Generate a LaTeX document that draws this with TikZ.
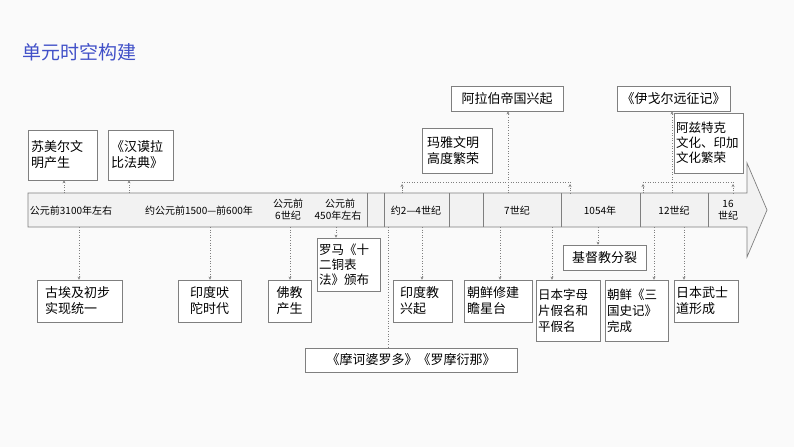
\documentclass[tikz,border=0pt]{standalone}
\usepackage{fontspec}
\setmainfont{Noto Sans CJK SC}
\usetikzlibrary{arrows.meta}
\definecolor{edge}{HTML}{7F7F7F}
\definecolor{title}{HTML}{4150C8}
\tikzset{x=1pt,y=-1pt,
 bx/.style={draw=edge,fill=white,line width=0.6pt,font=\fontsize{13}{16}\selectfont,align=left,inner sep=2pt},
 con/.style={draw=edge,dotted,line width=0.6pt,-{Stealth[length=3pt,width=3pt]}},
 brk/.style={draw=edge,dotted,line width=0.6pt},
 lab/.style={font=\fontsize{10}{12}\selectfont,align=center,inner sep=0pt}}
\begin{document}
\begin{tikzpicture}
\fill[white!98!black] (0,0) rectangle (794,447);
\useasboundingbox (0,0) rectangle (794,447);
\node[anchor=west,text=title,font=\fontsize{19}{22}\selectfont,inner sep=0pt] (t) at (22,52) {单元时空构建};
% bar
\draw[edge,fill=white!95!black,line width=0.7pt] (28,193) -- (747,193) -- (747,163) -- (767,210) -- (747,257) -- (747,227) -- (28,227) -- cycle;
\foreach \x in {367,384,449,483,561,640,708} \draw[edge,line width=0.7pt] (\x,193) -- (\x,227);
\node[lab] (l1) at (71,211) {公元前3100年左右};
\node[lab] (l2) at (199,211) {约公元前1500—前600年};
\node[lab] (l3) at (288,210) {公元前\\6世纪};
\node[lab] (l4) at (338,210) {\ \ 公元前\\450年左右};
\node[lab] (l5) at (416,211) {约2—4世纪};
\node[lab] (l6) at (517,211) {7世纪};
\node[lab] (l7) at (600,211) {1054年};
\node[lab] (l8) at (674,211) {12世纪};
\node[lab] (l9) at (728,210) {16\\世纪};
% top boxes
\node[bx,minimum width=69pt,minimum height=50pt,text width=63pt] (s1) at (62.5,155) {苏美尔文\\明产生};
\node[bx,minimum width=65pt,minimum height=50pt,text width=59pt] (s2) at (140.5,155) {《汉谟拉\\比法典》};
\node[bx,minimum width=70pt,minimum height=45pt,text width=60pt] (s3) at (457,150.5) {玛雅文明\\高度繁荣};
\node[bx,minimum width=112pt,minimum height=25pt] (s4) at (507,98.5) {阿拉伯帝国兴起};
\node[bx,minimum width=113pt,minimum height=25pt] (s5) at (673.5,98.5) {《伊戈尔远征记》};
\node[bx,minimum width=69pt,minimum height=60pt,text width=65pt,font=\fontsize{12.5}{15}\selectfont] (s6) at (708.5,143) {阿兹特克\\文化、印加\\文化繁荣};
% bottom boxes
\node[bx,minimum width=85pt,minimum height=42pt,text width=69pt] (d1) at (79.5,301) {古埃及初步\\实现统一};
\node[bx,minimum width=63pt,minimum height=42pt,text width=45pt,align=center] (d2) at (209.5,301) {印度吠\\陀时代};
\node[bx,minimum width=43pt,minimum height=42pt,text width=27pt,align=center] (d3) at (289.5,301) {佛教\\产生};
\node[bx,minimum width=63pt,minimum height=53pt,text width=59pt,font=\fontsize{12.5}{15}\selectfont] (d4) at (348.5,264.5) {罗马《十\\二铜表\\法》颁布};
\node[bx,minimum width=59pt,minimum height=42pt,text width=45pt] (d5) at (422.5,301) {印度教\\兴起};
\node[bx,minimum width=68pt,minimum height=42pt,text width=62pt] (d6) at (498,301) {朝鲜修建\\瞻星台};
\node[bx,minimum width=64pt,minimum height=61pt,text width=60pt,font=\fontsize{12.5}{16}\selectfont] (d7) at (568,310.5) {日本字母\\片假名和\\平假名};
\node[bx,minimum width=63pt,minimum height=61pt,text width=59pt,font=\fontsize{12.5}{16}\selectfont] (d8) at (636.5,310.5) {朝鲜《三\\国史记》\\完成};
\node[bx,minimum width=64pt,minimum height=42pt,text width=60pt] (d9) at (706,301) {日本武士\\道形成};
\node[bx,minimum width=83pt,minimum height=25pt] (d10) at (604.5,257.5) {基督教分裂};
\node[bx,minimum width=212pt,minimum height=24pt] (d11) at (411,360) {《摩诃婆罗多》《罗摩衍那》};
% bar anchor points
\coordinate (u1) at (64,193); \coordinate (u2) at (129,193);
\coordinate (u4) at (508,193); \coordinate (u5) at (672,193);
\coordinate (m1) at (79,227); \coordinate (m2) at (210,227); \coordinate (m3) at (290,227);
\coordinate (m4) at (336,227); \coordinate (m5) at (422,227); \coordinate (m6) at (500,227);
\coordinate (m7) at (552,227); \coordinate (m8) at (654,227); \coordinate (m9) at (684,227);
\coordinate (m10) at (598,227); \coordinate (m11) at (388,227);
\draw[con] (u1) -- (u1 |- s1.south);
\draw[con] (u2) -- (u2 |- s2.south);
\draw[con] (u4) -- (u4 |- s4.south);
\draw[con] (u5) -- (u5 |- s5.south);
\foreach \a/\b in {m1/d1,m2/d2,m3/d3,m4/d4,m5/d5,m6/d6,m7/d7,m8/d8,m9/d9,m10/d10}
  \draw[con] (\a) -- (\a |- \b.north);
\draw[brk] (m11) -- (m11 |- d11.north);
% brackets
\coordinate (p1) at (402,193); \coordinate (p2) at (570,193);
\coordinate (q1) at (643,193); \coordinate (q2) at (733,193);
\draw[brk] (p1) -- ++(0,-11) -| (p2);
\draw[brk] (q1) -- ++(0,-11) -| (q2);
\foreach \p in {p1,p2,q1,q2} \draw[con] ([yshift=2pt]\p) -- ([yshift=9pt]\p);
\end{tikzpicture}
\end{document}
